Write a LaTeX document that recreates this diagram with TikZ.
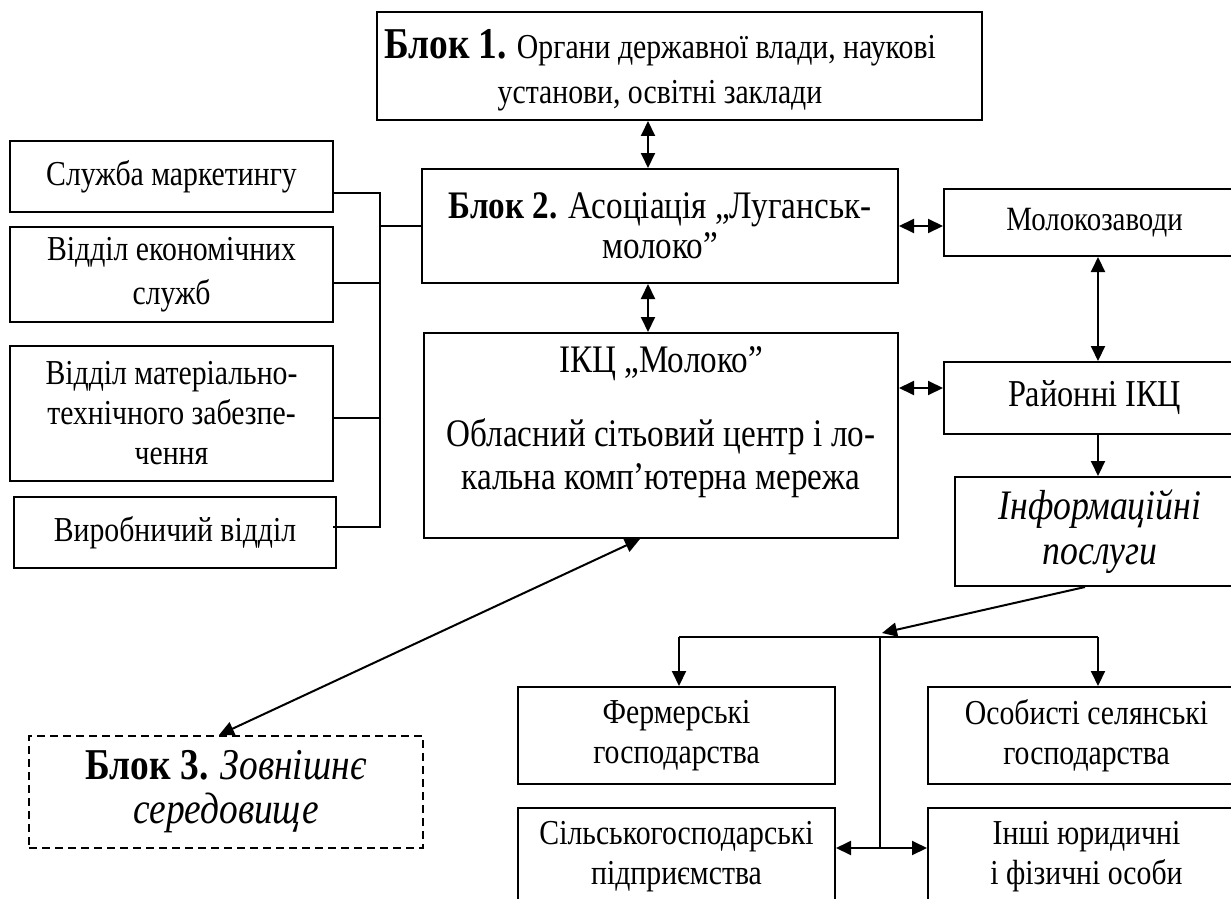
\documentclass[tikz,border=0pt]{standalone}
\usepackage{fontspec}
\setmainfont{Liberation Serif}[FakeStretch=0.85]
\usetikzlibrary{arrows.meta}
\begin{document}
\begin{tikzpicture}[x=0.5pt,y=-0.5pt,
  box/.style={draw, line width=1pt, inner sep=0pt, align=center, font=\fontsize{17.5}{20}\selectfont},
  dbox/.style={box, dash pattern=on 4pt off 2.5pt},
  txt/.style={inner sep=0pt, align=center},
  con/.style={line width=1pt},
  arr/.style={con, -{Triangle[length=7.5pt,width=7pt]}},
  biarr/.style={con, {Triangle[length=7.5pt,width=7pt]}-{Triangle[length=7.5pt,width=7pt]}},
]
\useasboundingbox (0,0) rectangle (1231,899);

% boxes
\node[box, minimum width=302.5pt, minimum height=54pt] (b1) at (679.5,66) {};
\node[txt, font=\fontsize{17.5}{22.5}\selectfont] (b1t) at (660,70)
  {{\fontsize{22}{22.5}\selectfont\bfseries Блок 1.} Органи державної влади, наукові\\установи, освітні заклади};

\node[box, minimum width=238pt, minimum height=57pt, font=\fontsize{19.5}{20}\selectfont] (b2) at (660,226)
  {{\bfseries Блок 2.} Асоціація „Луганськ-\\молоко”};

\node[box, minimum width=237pt, minimum height=102.5pt] (ikc) at (661,435.5) {};
\node[txt, font=\fontsize{19.5}{21.5}\selectfont] (ikct) at (661,422)
  {ІКЦ „Молоко”\\[15.5pt]Обласний сітьовий центр і ло-\\кальна комп’ютерна мережа};

\node[box, minimum width=161.5pt, minimum height=35.5pt] (s1) at (171.5,176.5) {Служба маркетингу};
\node[box, minimum width=161.5pt, minimum height=47.5pt, font=\fontsize{17.5}{22}\selectfont] (s2) at (171.5,274.5) {Відділ економічних\\служб};
\node[box, minimum width=161.5pt, minimum height=67.5pt] (s3) at (171.5,413.5) {Відділ матеріально-\\технічного забезпе-\\чення};
\node[box, minimum width=161pt, minimum height=35.5pt] (s4) at (175,532.5) {Виробничий відділ};

\node[box, minimum width=150.5pt, minimum height=33.5pt, font=\fontsize{17}{20}\selectfont] (mol) at (1094.5,222.5) {Молокозаводи};
\node[box, minimum width=150.5pt, minimum height=36pt, font=\fontsize{19}{20}\selectfont] (rai) at (1094.5,398) {Районні ІКЦ};
\node[box, minimum width=145pt, minimum height=54.5pt, font=\fontsize{21}{22.5}\selectfont\itshape] (inf) at (1100,531.5) {Інформаційні\\послуги};

\node[box, minimum width=158.5pt, minimum height=48.5pt] (fer) at (676.5,735.5) {Фермерські\\господарства};
\node[box, minimum width=158.5pt, minimum height=48.5pt] (oso) at (1086.5,735.5) {Особисті селянські\\господарства};
\node[box, minimum width=158.5pt, minimum height=49pt] (sil) at (676.5,857) {Сільськогосподарські\\підприємства};
\node[box, minimum width=158.5pt, minimum height=49pt] (ins) at (1086.5,857) {Інші юридичні\\і фізичні особи};

\node[dbox, minimum width=197pt, minimum height=56pt, font=\fontsize{22}{22}\selectfont] (bl3) at (226,792)
  {{\bfseries Блок 3.} {\itshape Зовнішнє}\\{\itshape середовище}};

% helper coordinates
\coordinate (ax) at (648,0);
\coordinate (ay) at (0,388);
\coordinate (rx) at (1098,0);
\coordinate (infout) at (1085,0);
\coordinate (hub) at (880,637);
\coordinate (hubtip) at (882,633);
\coordinate (busL) at (679,637);
\coordinate (busR) at (1098,637);
\coordinate (bot) at (880,848);
\coordinate (lx) at (380,0);
\coordinate (y1) at (0,193);
\coordinate (y2) at (0,283);
\coordinate (y3) at (0,418);
\coordinate (y4) at (0,527);
\coordinate (ik3) at (640,0);
\coordinate (b3x) at (219,0);

% connectors
\draw[biarr] (b1.south -| ax) -- (b2.north -| ax);
\draw[biarr] (b2.south -| ax) -- (ikc.north -| ax);
\draw[biarr] (b2.east) -- (b2.east -| mol.west);
\draw[biarr] (ikc.east |- ay) -- (rai.west |- ay);
\draw[biarr] (mol.south -| rx) -- (rai.north -| rx);
\draw[arr] (rai.south -| rx) -- (inf.north -| rx);
\draw[arr] (inf.south -| infout) -- (hubtip);
\draw[con] (busL) -- (busR);
\draw[arr] (busL) -- (fer.north -| busL);
\draw[arr] (busR) -- (oso.north -| busR);
\draw[con] (hub) -- (bot);
\draw[biarr] (sil.east |- bot) -- (ins.west |- bot);

\draw[con] (s1.east |- y1) -- (y1 -| lx) -- (y4 -| lx) -- ([xshift=-2pt]s4.east |- y4);
\draw[con] (s2.east |- y2) -- (y2 -| lx);
\draw[con] (s3.east |- y3) -- (y3 -| lx);
\draw[con] (lx |- b2.west) -- (b2.west);

\draw[biarr] (ikc.south -| ik3) -- (bl3.north -| b3x);
\end{tikzpicture}
\end{document}
